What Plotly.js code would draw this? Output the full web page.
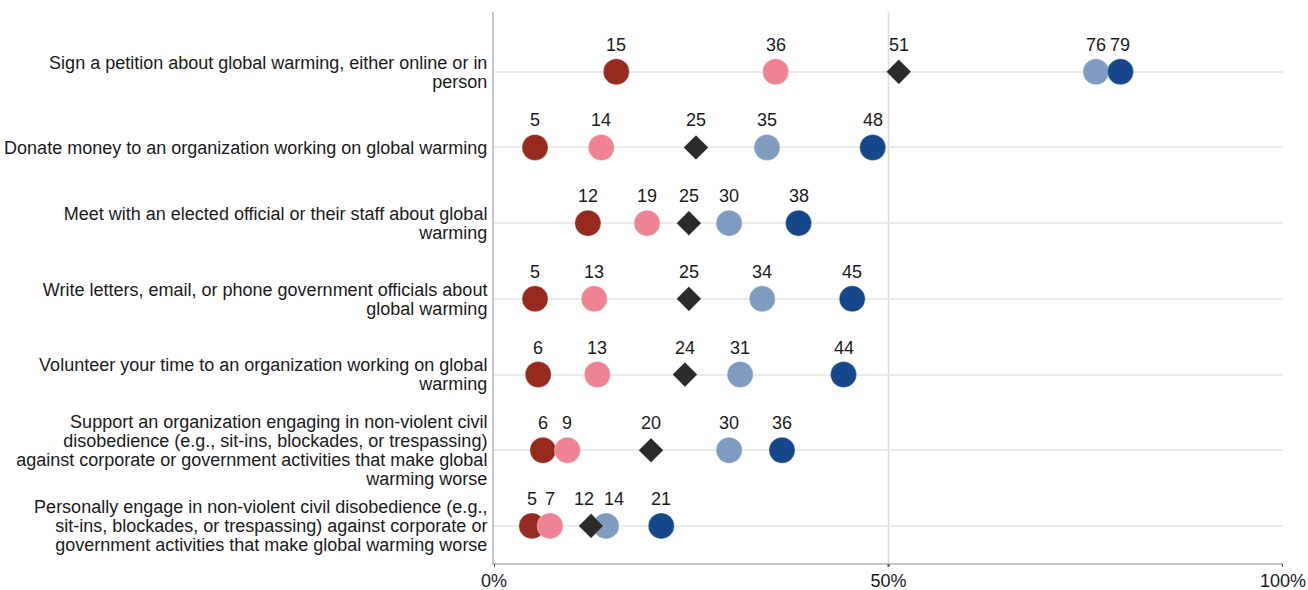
<!DOCTYPE html>
<html>
<head>
<meta charset="utf-8">
<script src="https://cdn.plot.ly/plotly-3.0.1.min.js"></script>
<style>html,body{margin:0;padding:0;background:#fff;}#chart{width:1308px;height:590px;}</style>
</head>
<body>
<div id="chart"></div>
<script>
const categories = [
  "Sign a petition about global warming, either online or in<br>person",
  "Donate money to an organization working on global warming",
  "Meet with an elected official or their staff about global<br>warming",
  "Write letters, email, or phone government officials about<br>global warming",
  "Volunteer your time to an organization working on global<br>warming",
  "Support an organization engaging in non-violent civil<br>disobedience (e.g., sit-ins, blockades, or trespassing)<br>against corporate or government activities that make global<br>warming worse",
  "Personally engage in non-violent civil disobedience (e.g.,<br>sit-ins, blockades, or trespassing) against corporate or<br>government activities that make global warming worse"
];
// marker positions
const conservativeRep = [15.5, 5.2, 11.9, 5.2, 5.6, 6.2, 4.8];
const moderateRep     = [35.7, 13.6, 19.4, 12.7, 13.1, 9.3, 7.1];
const allVoters       = [51.3, 25.6, 24.7, 24.7, 24.2, 19.9, 12.3];
const moderateDem     = [76.3, 34.6, 29.8, 34.0, 31.2, 29.8, 14.2];
const liberalDem      = [79.4, 48.0, 38.6, 45.4, 44.3, 36.5, 21.2];
// value labels as printed
const conservativeRepLabels = [15, 5, 12, 5, 6, 6, 5];
const moderateRepLabels     = [36, 14, 19, 13, 13, 9, 7];
const allVotersLabels       = [51, 25, 25, 25, 24, 20, 12];
const moderateDemLabels     = [76, 35, 30, 34, 31, 30, 14];
const liberalDemLabels      = [79, 48, 38, 45, 44, 36, 21];
const xTickVals = [0, 50, 100];
const xTickText = ["0%", "50%", "100%"];

const FONT = "Liberation Sans, Arial, Helvetica, sans-serif";
const rows = categories.map((_, i) => i);
const seriesList = [
  {name: "Conservative Republicans", vals: conservativeRep, labels: conservativeRepLabels, color: "#962a1f", symbol: "circle", size: 26},
  {name: "Liberal/Moderate Republicans", vals: moderateRep, labels: moderateRepLabels, color: "#ef8393", symbol: "circle", size: 26},
  {name: "Moderate/Conservative Democrats", vals: moderateDem, labels: moderateDemLabels, color: "#7f9cc0", symbol: "circle", size: 26},
  {name: "Liberal Democrats", vals: liberalDem, labels: liberalDemLabels, color: "#15478a", symbol: "circle", size: 26},
  {name: "All registered voters", vals: allVoters, labels: allVotersLabels, color: "#2b2b2b", symbol: "diamond", size: 19}
];

const traces = seriesList.map(s => ({
  type: "scatter", mode: "markers", name: s.name,
  x: s.vals, y: rows,
  marker: {color: s.color, symbol: s.symbol, size: s.size, line: {color: "rgba(255,255,255,0.6)", width: 0.5}},
  cliponaxis: false, hoverinfo: "x+name"
}));

const margin = {l: 494, r: 25, t: 12, b: 27};
const plotW = 1308 - margin.l - margin.r;
const pxPerUnit = plotW / 100;
const LABEL_SIZE = 18;

// value labels, nudged apart only where they would collide
const annotations = [];
rows.forEach(i => {
  const items = seriesList.map(s => {
    const txt = String(s.labels[i]);
    return {v: s.vals[i], txt: txt, w: txt.length * 0.556 * LABEL_SIZE, shift: 0};
  }).sort((a, b) => a.v - b.v);
  for (let k = 1; k < items.length; k++) {
    const a = items[k - 1], b = items[k];
    const ca = a.v * pxPerUnit + a.shift, cb = b.v * pxPerUnit + b.shift;
    const need = (a.w + b.w) / 2 + 4;
    if (cb - ca < need) {
      const want = (a.w + b.w) / 2 + 10;
      const extra = want - (cb - ca);
      a.shift -= extra / 2;
      b.shift += extra / 2;
    }
  }
  items.forEach(it => {
    annotations.push({
      x: it.v, y: i, xref: "x", yref: "y", text: it.txt,
      showarrow: false, yshift: 27, xshift: it.shift,
      font: {family: FONT, size: LABEL_SIZE, color: "#1a1a1a"}
    });
  });
});

const shapes = [{
  type: "line", xref: "x", yref: "paper", x0: 50, x1: 50, y0: 0, y1: 1,
  line: {color: "#dcdcdc", width: 1.5}, layer: "below"
}].concat(xTickVals.map(v => ({
  type: "line", xref: "x", yref: "paper", ysizemode: "pixel", yanchor: 0,
  x0: v, x1: v, y0: -1, y1: -4,
  line: {color: "#555", width: 2}, layer: "above"
})));

const layout = {
  width: 1308, height: 590,
  margin: margin,
  paper_bgcolor: "#fff", plot_bgcolor: "#fff",
  showlegend: false,
  font: {family: FONT, size: 18, color: "#1a1a1a"},
  xaxis: {
    range: [0, 100], tickvals: xTickVals, ticktext: xTickText,
    showgrid: false, zeroline: false,
    showline: true, linecolor: "#c4c4c4", linewidth: 2,
    ticks: "",
    tickfont: {family: FONT, size: 18, color: "#1a1a1a"}, fixedrange: true
  },
  yaxis: {
    range: [6.49, -0.79], tickvals: rows, ticktext: categories,
    showgrid: true, gridcolor: "#ebebeb", gridwidth: 2, zeroline: false,
    showline: true, linecolor: "#c8c8c8", linewidth: 2,
    ticks: "", ticklabelstandoff: 1,
    tickfont: {family: FONT, size: 18, color: "#1a1a1a"}, fixedrange: true
  },
  shapes: shapes,
  annotations: annotations
};

// tighten the line spacing of multi-line category labels, keeping each label centred on its row
function tightenLines(gd) {
  const LINE_EM = 1.06;
  const fl = gd._fullLayout;
  const texts = Array.from(gd.querySelectorAll(".yaxislayer-above .ytick text"));
  if (!texts.length) return;
  const rowCenter = i => fl._size.t + fl.yaxis.l2p(i);
  // offset of a single-line label's box centre from its row
  let offset0 = null;
  texts.forEach((t, i) => {
    if (t.querySelectorAll("tspan.line").length < 2 && offset0 === null) {
      const r = t.getBoundingClientRect();
      offset0 = (r.top + r.height / 2) - rowCenter(i);
    }
  });
  if (offset0 === null) offset0 = 0;
  texts.forEach((t, i) => {
    const lines = t.querySelectorAll("tspan.line");
    if (lines.length < 2) return;
    lines.forEach((ln, k) => { if (k > 0) ln.setAttribute("dy", (k * LINE_EM).toFixed(3) + "em"); });
    const r = t.getBoundingClientRect();
    const d = rowCenter(i) + offset0 - (r.top + r.height / 2);
    const old = t.getAttribute("transform") || "";
    t.setAttribute("transform", (old + " translate(0," + d.toFixed(2) + ")").trim());
  });
}

Plotly.newPlot("chart", traces, layout, {displayModeBar: false, staticPlot: true})
  .then(gd => tightenLines(gd));
</script>
</body>
</html>
